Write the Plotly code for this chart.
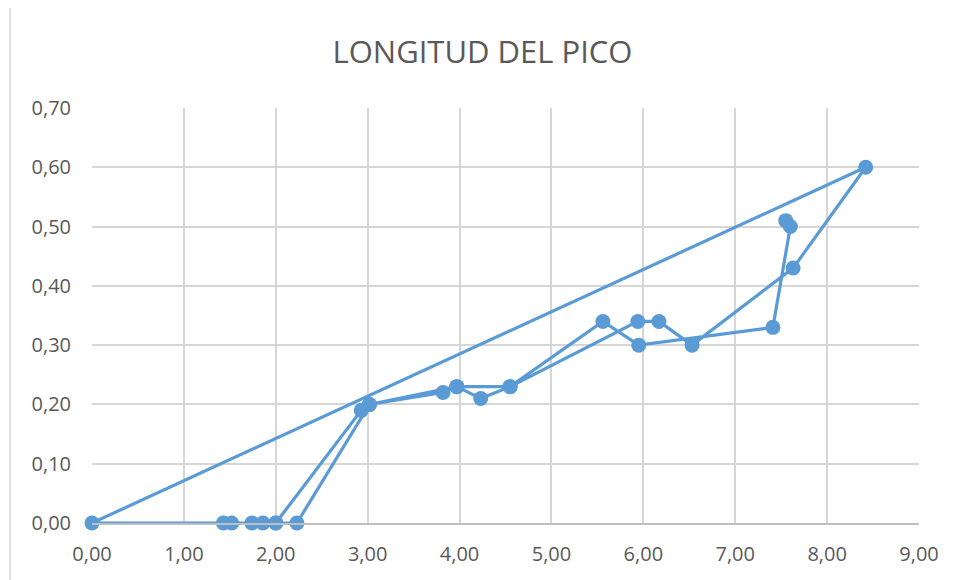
import plotly.graph_objects as go

# Data in drawing order (Excel scatter with straight lines, data order)
x_vals = [7.55, 7.60, 7.41, 5.95, 5.56, 4.55, 4.23, 3.97, 3.82, 3.02, 2.93,
          2.00, 1.86, 1.74, 1.52, 1.43, 0.00, 8.42, 7.63, 6.53, 6.17, 5.94,
          4.55, 3.97, 3.02, 2.23, 2.00]
y_vals = [0.51, 0.50, 0.33, 0.30, 0.34, 0.23, 0.21, 0.23, 0.22, 0.20, 0.19,
          0.00, 0.00, 0.00, 0.00, 0.00, 0.00, 0.60, 0.43, 0.30, 0.34, 0.34,
          0.23, 0.23, 0.20, 0.00, 0.00]

title_text = "LONGITUD DEL PICO"
x_ticks = [0, 1, 2, 3, 4, 5, 6, 7, 8, 9]
y_ticks = [0.0, 0.1, 0.2, 0.3, 0.4, 0.5, 0.6, 0.7]

color = "#5B9BD5"
font_family = "Open Sans, Liberation Sans, sans-serif"

W, H = 949, 572
L, T, R, B = 84, 100, 38, 57
PW, PH = W - L - R, H - T - B

fig = go.Figure()
fig.add_trace(go.Scatter(
    x=x_vals, y=y_vals, mode="lines+markers",
    line=dict(color=color, width=3.2),
    marker=dict(color=color, size=15),
    cliponaxis=False, showlegend=False,
))

fig.update_layout(
    width=W, height=H,
    margin=dict(l=L, r=R, t=T, b=B),
    paper_bgcolor="white", plot_bgcolor="white",
    separators=",.",
    title=dict(text=title_text, x=0.5, xanchor="center", y=1 - 44 / H, yanchor="middle",
               font=dict(family=font_family, size=31, color="#595959")),
    font=dict(family=font_family, color="#595959"),
    xaxis=dict(range=[0, 9], tickvals=x_ticks, tickformat=".2f",
               showgrid=True, gridcolor="#d6d6d6", gridwidth=1.6,
               zeroline=False, showline=True, linecolor="#bfbfbf", linewidth=1.6,
               ticks="", tickfont=dict(size=20, color="#595959"), ticklabelstandoff=12),
    yaxis=dict(range=[0, 0.7], tickvals=y_ticks, tickformat=".2f",
               showgrid=True, gridcolor="#d6d6d6", gridwidth=1.6,
               zeroline=False, showline=False,
               ticks="", tickfont=dict(size=20, color="#595959"), ticklabelstandoff=20),
)

fig.add_shape(type="line", xref="paper", yref="paper",
              x0=(2 - L) / PW, x1=(2 - L) / PW, y0=-B / PH, y1=1 + T / PH,
              line=dict(color="#d9d9d9", width=1.5))

fig.write_html("out.html")
